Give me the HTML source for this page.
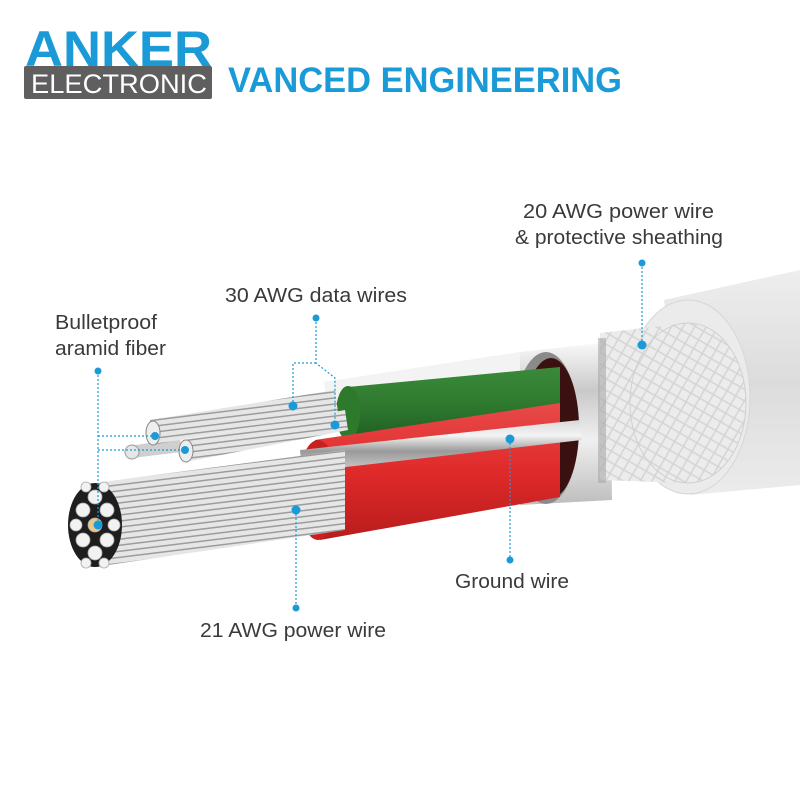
<!DOCTYPE html>
<html><head><meta charset="utf-8"><style>
html,body{margin:0;padding:0;background:#fff;}
svg{display:block;}
text{font-family:"Liberation Sans",sans-serif;}
</style></head><body>
<svg width="800" height="800" viewBox="0 0 800 800" xmlns="http://www.w3.org/2000/svg">
<defs>
<linearGradient id="jk" x1="0" y1="0" x2="0" y2="1"><stop offset="0" stop-color="#eeeeee"/><stop offset="0.5" stop-color="#dcdcdc"/><stop offset="1" stop-color="#ececec"/></linearGradient>
<linearGradient id="foil" x1="0" y1="0" x2="0" y2="1"><stop offset="0" stop-color="#fafafa"/><stop offset="0.3" stop-color="#c9c9c9"/><stop offset="0.6" stop-color="#f0f0f0"/><stop offset="1" stop-color="#bdbdbd"/></linearGradient>
<linearGradient id="grn" x1="0" y1="0" x2="0" y2="1"><stop offset="0" stop-color="#3a8a3a"/><stop offset="0.5" stop-color="#2f7a2f"/><stop offset="1" stop-color="#1f5e22"/></linearGradient>
<linearGradient id="red" x1="0" y1="0" x2="0" y2="1"><stop offset="0" stop-color="#e84a4a"/><stop offset="0.5" stop-color="#e02a2a"/><stop offset="1" stop-color="#b81c1c"/></linearGradient>
<linearGradient id="sil" x1="0" y1="0" x2="0" y2="1"><stop offset="0" stop-color="#d8d8d8"/><stop offset="0.3" stop-color="#f4f4f4"/><stop offset="0.6" stop-color="#9a9a9a"/><stop offset="1" stop-color="#cfcfcf"/></linearGradient>
<pattern id="str" width="6" height="6" patternUnits="userSpaceOnUse" patternTransform="rotate(-7)"><rect width="6" height="6" fill="#e6e6e6"/><rect y="3" width="6" height="1.5" fill="#9c9c9c"/></pattern>
<pattern id="brd" width="10" height="10" patternUnits="userSpaceOnUse" patternTransform="rotate(30)"><rect width="10" height="10" fill="#ececec"/><path d="M0 5H10M5 0V10" stroke="#d4d4d4" stroke-width="1.5"/></pattern>
</defs>

<!-- header -->
<text x="25" y="66" font-size="50" font-weight="bold" fill="#1b9ad8" textLength="187" lengthAdjust="spacingAndGlyphs">ANKER</text>
<rect x="24" y="66" width="188" height="33" rx="2" fill="#5f5f5f"/>
<text x="31" y="93" font-size="27" fill="#fff" textLength="176" lengthAdjust="spacingAndGlyphs">ELECTRONIC</text>
<text x="228" y="92" font-size="35" font-weight="bold" fill="#1b9ad8" textLength="394" lengthAdjust="spacingAndGlyphs">VANCED ENGINEERING</text>

<!-- jacket -->
<path d="M664 300 L800 270 L800 485 L690 495 Z" fill="url(#jk)"/>
<ellipse cx="688" cy="397" rx="62" ry="97" fill="#ebebeb" stroke="#d6d6d6"/>
<!-- foil -->
<path d="M520 352 L610 342 L612 500 L520 505 Z" fill="url(#foil)"/>
<!-- braid -->
<path d="M600 333 L688 323 L688 483 L600 480 Z" fill="url(#brd)"/>
<ellipse cx="688" cy="403" rx="58" ry="80" fill="url(#brd)" stroke="#d0d0d0"/>
<rect x="598" y="338" width="8" height="145" fill="#a8a8a8" opacity="0.6"/>
<ellipse cx="546" cy="428" rx="33" ry="76" fill="#8a8a8a"/>
<ellipse cx="551" cy="428" rx="28" ry="70" fill="#3a1010"/>
<!-- white inner sleeve -->
<path d="M324 382 L520 352 L520 395 L330 420 Z" fill="#f3f3f3"/>
<!-- green -->
<path d="M348 387 L560 367 L560 417 L348 440 Z" fill="url(#grn)"/>
<ellipse cx="348" cy="413" rx="12" ry="27" fill="#2d7a2d"/>
<!-- red -->
<path d="M315 440 L560 403 L560 497 L320 540 Z" fill="url(#red)"/>
<ellipse cx="318" cy="490" rx="20" ry="50" fill="#c81f1f"/>
<!-- data wires -->
<path d="M130 446 L180 438 L182 452 L132 458 Z" fill="#cfcfcf"/>
<circle cx="132" cy="452" r="7" fill="#e6e6e6" stroke="#999"/>
<path d="M150 420 L335 390 L338 412 L152 445 Z" fill="url(#str)"/>
<ellipse cx="153" cy="433" rx="7" ry="12" fill="#eee" stroke="#888"/>
<path d="M183 440 L345 410 L348 430 L186 462 Z" fill="url(#str)"/>
<ellipse cx="186" cy="451" rx="7" ry="11" fill="#eee" stroke="#888"/>
<!-- ground wire -->
<path d="M300 450 L580 420 L582 440 L302 472 Z" fill="url(#sil)"/>
<!-- big bundle -->
<path d="M95 483 L345 450 L345 530 L95 567 Z" fill="url(#str)"/>
<ellipse cx="95" cy="525" rx="27" ry="42" fill="#1e1e1e"/>
<g fill="#f2f2f2" stroke="#aaa" stroke-width="0.8">
<circle cx="95" cy="525" r="7" fill="#e8c98a"/>
<circle cx="95" cy="497" r="7"/><circle cx="95" cy="553" r="7"/>
<circle cx="83" cy="510" r="7"/><circle cx="107" cy="510" r="7"/>
<circle cx="83" cy="540" r="7"/><circle cx="107" cy="540" r="7"/>
<circle cx="76" cy="525" r="6"/><circle cx="114" cy="525" r="6"/>
<circle cx="86" cy="487" r="5"/><circle cx="104" cy="487" r="5"/>
<circle cx="86" cy="563" r="5"/><circle cx="104" cy="563" r="5"/>
</g>

<!-- connectors -->
<g stroke="#1b9ad8" stroke-width="1.2" stroke-dasharray="2,2" fill="none">
<path d="M642 263 V345"/>
<path d="M316 318 V363 L335 378 V425 M316 363 H293 V406"/>
<path d="M98 371 V525 M98 436 H155 M98 450 H185"/>
<path d="M510 439 V560"/>
<path d="M296 510 V608"/>
</g>
<g fill="#1b9ad8">
<circle cx="642" cy="263" r="3.5"/><circle cx="642" cy="345" r="4.5"/>
<circle cx="316" cy="318" r="3.5"/><circle cx="335" cy="425" r="4.5"/><circle cx="293" cy="406" r="4.5"/>
<circle cx="98" cy="371" r="3.5"/><circle cx="98" cy="525" r="4.5"/><circle cx="155" cy="436" r="4"/><circle cx="185" cy="450" r="4"/>
<circle cx="510" cy="439" r="4.5"/><circle cx="510" cy="560" r="3.5"/>
<circle cx="296" cy="510" r="4.5"/><circle cx="296" cy="608" r="3.5"/>
</g>

<!-- labels -->
<g font-size="20" fill="#3a3a3a">
<text x="523" y="218" textLength="191" lengthAdjust="spacingAndGlyphs">20 AWG power wire</text>
<text x="515" y="244" textLength="208" lengthAdjust="spacingAndGlyphs">&amp; protective sheathing</text>
<text x="225" y="302" textLength="182" lengthAdjust="spacingAndGlyphs">30 AWG data wires</text>
<text x="55" y="329" textLength="102" lengthAdjust="spacingAndGlyphs">Bulletproof</text>
<text x="55" y="355" textLength="111" lengthAdjust="spacingAndGlyphs">aramid fiber</text>
<text x="455" y="588" textLength="114" lengthAdjust="spacingAndGlyphs">Ground wire</text>
<text x="200" y="637" textLength="186" lengthAdjust="spacingAndGlyphs">21 AWG power wire</text>
</g>
</svg>
</body></html>
